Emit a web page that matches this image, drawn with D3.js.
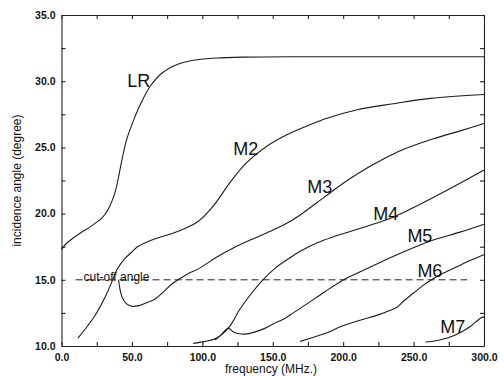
<!DOCTYPE html>
<html>
<head>
<meta charset="utf-8">
<script src="https://cdn.jsdelivr.net/npm/d3@7"></script>
<style>
  body { margin: 0; background: #fff; }
  svg { display: block; font-family: "Liberation Sans", Arial, Helvetica, sans-serif; }
  .tick text { font-weight: bold; font-size: 10.5px; fill: #111; }
  .tick line, .domain { stroke: #222; stroke-width: 1.1; }
</style>
</head>
<body>
<svg width="504" height="376"></svg>
<script>
// curves (frequency in MHz, incidence angle in degree)
var lrFreq  = [0, 4, 9.6, 15, 20.3, 28.6, 33.3, 38, 40.4, 42.8, 46.3, 51, 55.8, 62.9, 71.2, 83, 95, 110, 130, 170, 230, 300];
var lrAngle = [17.3, 17.8, 18.25, 18.65, 19.0, 19.65, 20.35, 21.6, 22.7, 24.0, 25.6, 27.0, 28.2, 29.6, 30.6, 31.3, 31.6, 31.75, 31.82, 31.85, 31.85, 31.85];

var m2Freq  = [11.7, 17, 23.8, 31, 36, 39.5, 45, 50, 54, 66.5, 78.6, 88, 97, 108, 120, 132, 146, 160, 175, 188.6, 210, 235.7, 262, 300];
var m2Angle = [10.6, 11.3, 12.3, 13.7, 14.9, 15.8, 16.6, 17.1, 17.5, 18.1, 18.5, 18.9, 19.4, 20.6, 22.4, 23.9, 25.1, 25.95, 26.65, 27.2, 27.85, 28.3, 28.7, 29.0];

var m3Freq  = [40.5, 41.5, 43, 46, 50, 55, 60, 66.5, 72, 78.6, 88, 98.4, 110, 122, 134, 146, 158, 169.5, 181, 193, 205, 217, 229, 240.6, 264, 283, 300];
var m3Angle = [15.0, 14.3, 13.7, 13.2, 13.0, 13.05, 13.25, 13.55, 14.05, 14.7, 15.35, 15.9, 16.7, 17.4, 18.0, 18.55, 19.15, 19.9, 20.8, 21.75, 22.65, 23.45, 24.15, 24.75, 25.65, 26.25, 26.8];

var m4Freq  = [93.5, 102, 108, 113, 118.4, 122, 125.6, 134, 143, 152, 162, 169.5, 181.6, 193, 205, 217, 236, 252.6, 276, 300];
var m4Angle = [10.2, 10.35, 10.5, 10.8, 11.35, 11.9, 12.6, 13.85, 15.0, 15.9, 16.65, 17.15, 17.8, 18.25, 18.65, 19.05, 19.75, 20.6, 21.9, 23.3];

var m5Freq  = [109, 113, 118.4, 121.5, 125, 130.5, 137, 144.7, 150, 158.9, 164.6, 174.5, 187, 199.5, 210, 220, 240.6, 264, 283, 300];
var m5Angle = [10.45, 10.8, 11.35, 11.1, 10.95, 10.9, 11.05, 11.35, 11.65, 12.1, 12.5, 13.2, 14.1, 14.95, 15.5, 16.0, 17.0, 18.0, 18.6, 19.2];

var m6Freq  = [169.5, 180, 188.6, 198, 212, 225, 233.5, 238.5, 243, 250, 257, 262, 270, 281, 290, 300];
var m6Angle = [10.35, 10.7, 11.0, 11.45, 11.95, 12.35, 12.7, 12.95, 13.4, 14.0, 14.6, 14.95, 15.45, 16.0, 16.45, 16.9];

var m7Freq  = [258.5, 266, 274, 283, 290, 297.5, 300];
var m7Angle = [10.3, 10.4, 10.6, 11.0, 11.45, 12.1, 12.2];

var curveNames = ["LR", "M2", "M3", "M4", "M5", "M6", "M7"];
var cutoffAngle = 15.0;
var cutoffFreq = [10, 288];

var xTicks = [0, 25, 50, 75, 100, 125, 150, 175, 200, 225, 250, 275, 300];
var yTicks = [10, 12.5, 15, 17.5, 20, 22.5, 25, 27.5, 30, 32.5, 35];

// where each curve name sits (data units, left edge / baseline)
var labelFreq  = [46.6, 121.9, 174.5, 221.4, 245.6, 252.7, 269];
var labelAngle = [29.56, 24.43, 21.56, 19.5, 17.85, 15.2, 10.98];

var svg = d3.select("svg");
var plotLeft = 61.5, plotRight = 484, plotTop = 15, plotBottom = 346;

var x = d3.scaleLinear().domain([0, 300]).range([plotLeft, plotRight]);
var y = d3.scaleLinear().domain([10, 35]).range([plotBottom, plotTop]);

// axes, ticks pointing inward on all four sides
svg.append("g")
  .attr("transform", "translate(0," + plotBottom + ")")
  .call(d3.axisBottom(x).tickValues(xTicks).tickSizeInner(-4).tickSizeOuter(0).tickPadding(8)
    .tickFormat(d => d % 50 === 0 ? d.toFixed(1) : ""));

svg.append("g")
  .attr("transform", "translate(0," + plotTop + ")")
  .call(d3.axisTop(x).tickValues(xTicks).tickSizeInner(-4).tickSizeOuter(0).tickFormat(""));

svg.append("g")
  .attr("transform", "translate(" + plotLeft + ",0)")
  .call(d3.axisLeft(y).tickValues(yTicks).tickSizeInner(-4).tickSizeOuter(0).tickPadding(6)
    .tickFormat(d => d % 5 === 0 ? d.toFixed(1) : ""));

svg.append("g")
  .attr("transform", "translate(" + plotRight + ",0)")
  .call(d3.axisRight(y).tickValues(yTicks).tickSizeInner(-4).tickSizeOuter(0).tickFormat(""));

// curves
var allFreq = [lrFreq, m2Freq, m3Freq, m4Freq, m5Freq, m6Freq, m7Freq];
var allAngle = [lrAngle, m2Angle, m3Angle, m4Angle, m5Angle, m6Angle, m7Angle];

var line = d3.line()
  .x(d => x(d[0]))
  .y(d => y(d[1]))
  .curve(d3.curveCatmullRom.alpha(0.5));

curveNames.forEach(function(name, i) {
  var pts = allFreq[i].map((f, j) => [f, allAngle[i][j]]);
  svg.append("path")
    .datum(pts)
    .attr("d", line)
    .attr("fill", "none")
    .attr("stroke", "#1c1c1c")
    .attr("stroke-width", 1.1);

  svg.append("text")
    .attr("x", x(labelFreq[i]))
    .attr("y", y(labelAngle[i]))
    .style("font-size", "18px")
    .attr("fill", "#111")
    .text(name);
});

// cut-off line
svg.append("line")
  .attr("x1", x(cutoffFreq[0]))
  .attr("x2", x(cutoffFreq[1]))
  .attr("y1", y(cutoffAngle))
  .attr("y2", y(cutoffAngle))
  .attr("stroke", "#222")
  .attr("stroke-width", 1)
  .attr("stroke-dasharray", "7,4");

svg.append("text")
  .attr("x", x(cutoffFreq[0]) + 8)
  .attr("y", y(cutoffAngle) + 1)
  .style("font-size", "12px")
  .attr("fill", "#111")
  .text("cut-off angle");

// axis titles
svg.append("text")
  .attr("transform", "translate(21," + ((plotTop + plotBottom) / 2) + ") rotate(-90)")
  .attr("text-anchor", "middle")
  .style("font-size", "12px")
  .attr("fill", "#111")
  .text("incidence angle (degree)");

svg.append("text")
  .attr("x", 271)
  .attr("y", 373)
  .attr("text-anchor", "middle")
  .style("font-size", "12px")
  .attr("fill", "#111")
  .text("frequency (MHz.)");
</script>
</body>
</html>
